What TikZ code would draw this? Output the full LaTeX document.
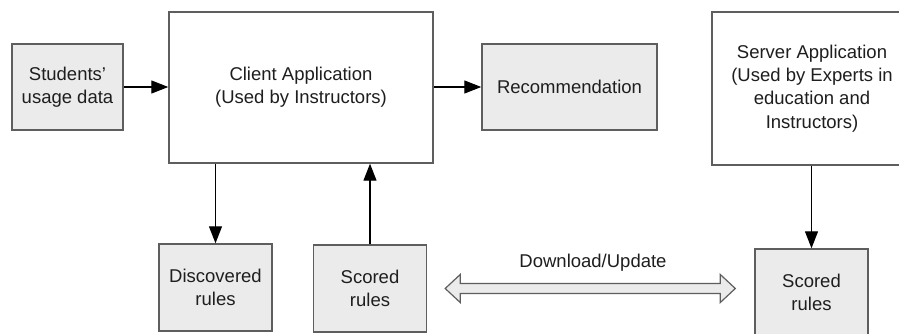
\documentclass[tikz,border=0pt]{standalone}
\usepackage{fontspec}
\setmainfont{Liberation Sans}
\usetikzlibrary{arrows.meta,calc}
\definecolor{boxline}{HTML}{5E5E5E}
\definecolor{boxfill}{HTML}{EBEBEB}
\definecolor{txt}{HTML}{1E1E1E}
\tikzset{
  box/.style={draw=boxline, line width=1.4pt, rectangle, align=center, text=txt,
    font=\fontsize{18.5}{23.3}\selectfont, inner sep=2pt},
  inbox/.style={box, fill=boxfill},
  conn/.style={line width=1.2pt, draw=black, -{Triangle[length=17pt,width=13pt]}},
  dblarrow/.style={draw=boxline, line width=1.2pt, fill=boxfill, line join=miter},
  lbl/.style={text=txt, font=\fontsize{18.5}{23.3}\selectfont, inner sep=0pt}
}
\begin{document}
\begin{tikzpicture}[x=1pt,y=-1pt]
\clip (0,0) rectangle (899,334);
\fill[white] (0,0) rectangle (899,334);
\node[inbox, minimum width=111pt, minimum height=86pt] (stu) at (67.5,87) {Students'\\usage data};
\node[box, minimum width=264pt, minimum height=151pt] (client) at (301,87.5) {Client Application\\(Used by Instructors)};
\node[inbox, minimum width=175pt, minimum height=86pt] (rec) at (569.5,87) {Recommendation};
\node[box, minimum width=200pt, minimum height=153pt] (server) at (812,88.5) {Server Application\\(Used by Experts in\\education and\\Instructors)};
\node[inbox, minimum width=113pt, minimum height=87pt] (disc) at (215.5,287.5) {Discovered\\rules};
\node[inbox, minimum width=113pt, minimum height=87pt] (sl) at (370,288.5) {Scored\\rules};
\node[inbox, minimum width=113pt, minimum height=87pt] (sr) at (811.5,292.5) {Scored\\rules};
\node[lbl] (dl) at (593,263) {Download/Update};

\draw[conn] (stu.east) -- (stu.east -| client.west);
\draw[conn] (client.east |- rec.west) -- (rec.west);
\draw[conn] (client.south -| disc.north) -- (disc.north);
\draw[conn] (sl.north) -- (sl.north |- client.south);
\draw[conn] (server.south -| sr.north) -- (sr.north);

\coordinate (da) at ($(sl.east)+(18,0)$);
\coordinate (db) at ($(sr.west |- sl.east)+(-19,0)$);
\draw[dblarrow] (da) -- ($(da)+(15,-14)$) -- ($(da)+(15,-5)$) -- ($(db)+(-15,-5)$)
  -- ($(db)+(-15,-14)$) -- (db) -- ($(db)+(-15,14)$) -- ($(db)+(-15,5)$)
  -- ($(da)+(15,5)$) -- ($(da)+(15,14)$) -- cycle;
\end{tikzpicture}
\end{document}
